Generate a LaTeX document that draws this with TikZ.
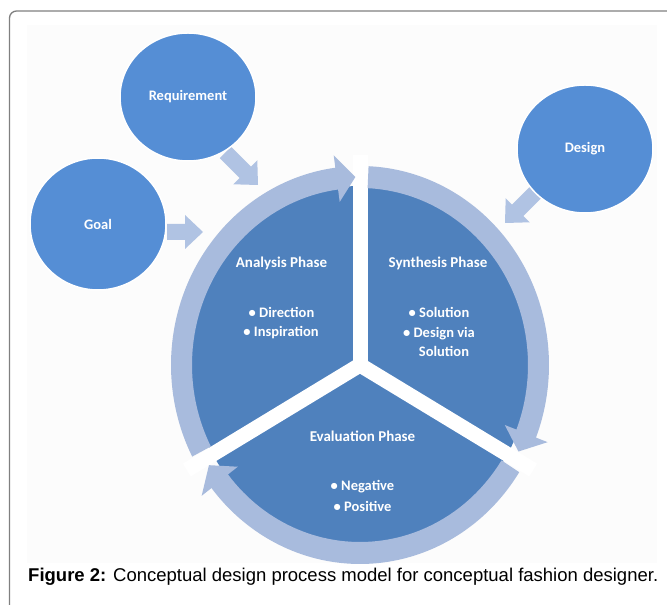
\documentclass[tikz,border=0pt]{standalone}
\usepackage{fontspec}
\setmainfont{Carlito}
\newfontfamily\captionfont{Liberation Sans}
\usetikzlibrary{shapes.geometric}

\definecolor{pieblue}{HTML}{4F81BD}
\definecolor{bubbleblue}{HTML}{558ED5}
\definecolor{ringblue}{HTML}{A8BBDD}
\definecolor{feedblue}{HTML}{B0C3E3}
\definecolor{framegray}{HTML}{808080}
\definecolor{panelgray}{HTML}{FCFCFC}

\tikzset{
  bubble/.style={ellipse, fill=bubbleblue, draw=white, line width=1.5pt, inner sep=0pt,
    minimum width=136pt, minimum height=128pt, text=white,
    font=\bfseries\fontsize{14.5}{17}\selectfont},
  phase/.style={text=white, inner sep=0pt, font=\bfseries\fontsize{15}{18}\selectfont},
  item/.style={text=white, inner sep=0pt, font=\bfseries\fontsize{14.5}{17}\selectfont},
  ring/.style={fill=ringblue},
  spoke/.style={draw=white, line width=15pt},
  feed/.pic={\fill[feedblue] (-#1,-8) -- (-18,-8) -- (-18,-17) -- (0,0) -- (-18,17) -- (-18,8) -- (-#1,8) -- cycle;}
}

% one segment of the circular arrow: #1 start angle, #2 back of head, #3 tip
\newcommand\ringband[3]{%
  \fill[ring] (#1:189pt and 199pt)
    arc[start angle=#1, end angle=#2, x radius=189pt, y radius=199pt]
    -- (#2:201.5pt and 211.5pt) -- (#3:178.5pt and 188pt) -- (#2:155.5pt and 164.5pt)
    -- (#2:168pt and 177pt)
    arc[start angle=#2, end angle=#1, x radius=168pt, y radius=177pt] -- cycle;}

\begin{document}
\begin{tikzpicture}[x=1pt,y=1pt]
\useasboundingbox (0,0) rectangle (667,605);

% frame and panel
\fill[panelgray] (27,42) rectangle (657,580);
\draw[framegray, line width=1.3pt, rounded corners=7pt] (9.5,-20) -- (9.5,594) -- (700,594);

% segmented pie with circular arrow
\begin{scope}[shift={(360,240)}]
  \coordinate (hub) at (0,0);
  \fill[pieblue] (hub) ellipse [x radius=170pt, y radius=179pt];
  \draw[spoke] (hub) -- (90:200pt and 210pt);
  \draw[spoke] (hub) -- (210:200pt and 210pt);
  \draw[spoke] (hub) -- (330:200pt and 210pt);
  \ringband{207.4}{97.5}{91.5}
  \ringband{87.4}{-21.4}{-27.4}
  \ringband{-32.6}{-141.8}{-147.8}
\end{scope}

% input arrows
\coordinate (goaltip) at (203,373);
\coordinate (reqtip) at (258,420);
\coordinate (destip) at (505,382);
\pic at (goaltip) {feed=36};
\pic[rotate=-45] at (reqtip) {feed=46};
\pic[rotate=-135] at (destip) {feed=46};

% input bubbles
\node[bubble] (req) at (188,508) {Requirement};
\node[bubble, minimum height=132pt] (goal) at (98,381) {Goal};
\node[bubble] (des) at (585,456) {Design};

% phase texts
\node[phase] (ana) at (281.5,342) {Analysis Phase};
\node[item] (ana1) at (281.5,292.3) {• Direction};
\node[item] (ana2) at (281,272) {• Inspiration};

\node[phase] (syn) at (438,342) {Synthesis Phase};
\node[item] (syn1) at (439,292.3) {• Solution};
\node[item] (syn2) at (439,271) {• Design via};
\node[item] (syn3) at (444,253.3) {Solution};

\node[phase] (eva) at (362.5,168.3) {Evaluation Phase};
\node[item] (eva1) at (362.5,118.3) {• Negative};
\node[item] (eva2) at (362.5,98.3) {• Positive};

% caption
\node[anchor=base west, inner sep=0pt, font=\captionfont\fontsize{18.5}{22}\selectfont] (cap) at (28,23)
  {\textbf{Figure 2:} Conceptual design process model for conceptual fashion designer.};
\end{tikzpicture}
\end{document}
